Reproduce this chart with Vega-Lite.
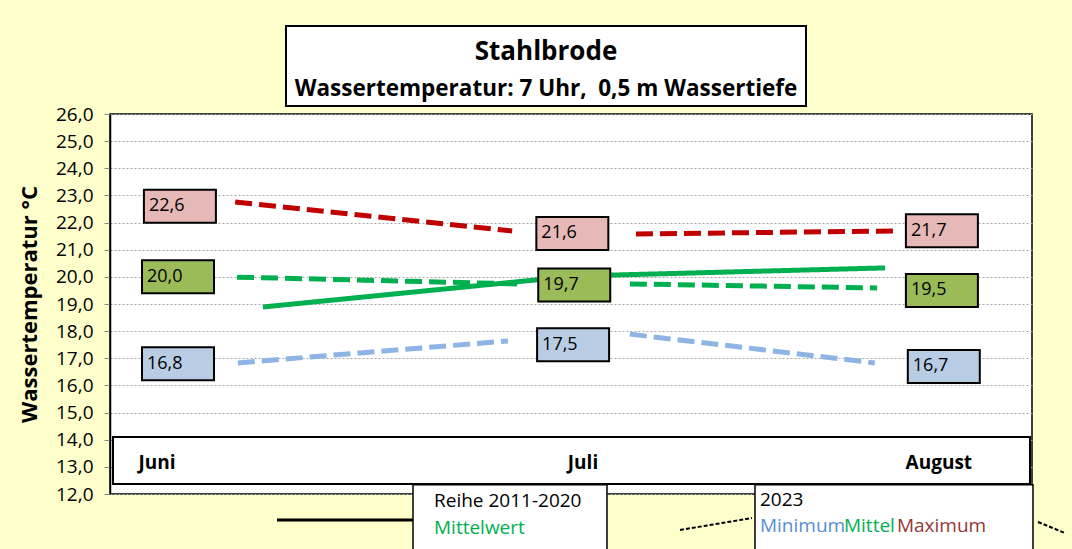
{
  "$schema": "https://vega.github.io/schema/vega-lite/v6.json",
  "width": 922,
  "height": 380,
  "autosize": {"type": "none"},
  "padding": {"left": 110, "top": 114, "right": 40, "bottom": 55},
  "background": "#FFFFCC",
  "config": {
    "locale": {"number": {"decimal": ",", "thousands": ".", "grouping": [3], "currency": ["", " €"]}},
    "font": "Open Sans",
    "view": {"fill": "white", "stroke": "black", "strokeWidth": 1.5},
    "axisY": {
      "values": [12, 13, 14, 15, 16, 17, 18, 19, 20, 21, 22, 23, 24, 25, 26],
      "format": ".1f",
      "labelFont": "Open Sans", "labelFontSize": 19, "labelColor": "black", "labelPadding": 11,
      "tickColor": "#888888", "tickSize": 6,
      "domainColor": "black", "domainWidth": 1.5,
      "grid": true, "gridColor": "#A6A6A6", "gridDash": [2, 2],
      "titleFont": "Open Sans", "titleFontSize": 22, "titleFontWeight": "bold", "titleColor": "black", "titlePadding": 14
    }
  },
  "datasets": {
    "linien": [
      {"reihe": "Maximum 2023", "abschnitt": "a", "art": "gestrichelt", "m": 6.150, "temp": 22.76},
      {"reihe": "Maximum 2023", "abschnitt": "a", "art": "gestrichelt", "m": 6.877, "temp": 21.69},
      {"reihe": "Maximum 2023", "abschnitt": "b", "art": "gestrichelt", "m": 7.202, "temp": 21.58},
      {"reihe": "Maximum 2023", "abschnitt": "b", "art": "gestrichelt", "m": 7.877, "temp": 21.69},
      {"reihe": "Mittel 2023", "abschnitt": "a", "art": "gestrichelt", "m": 6.155, "temp": 19.99},
      {"reihe": "Mittel 2023", "abschnitt": "a", "art": "gestrichelt", "m": 6.890, "temp": 19.74},
      {"reihe": "Mittel 2023", "abschnitt": "b", "art": "gestrichelt", "m": 7.186, "temp": 19.74},
      {"reihe": "Mittel 2023", "abschnitt": "b", "art": "gestrichelt", "m": 7.835, "temp": 19.59},
      {"reihe": "Minimum 2023", "abschnitt": "a", "art": "gestrichelt", "m": 6.157, "temp": 16.83},
      {"reihe": "Minimum 2023", "abschnitt": "a", "art": "gestrichelt", "m": 6.866, "temp": 17.64},
      {"reihe": "Minimum 2023", "abschnitt": "b", "art": "gestrichelt", "m": 7.186, "temp": 17.89},
      {"reihe": "Minimum 2023", "abschnitt": "b", "art": "gestrichelt", "m": 7.829, "temp": 16.83},
      {"reihe": "Mittelwert 2011-2020", "abschnitt": "a", "art": "durchgezogen", "m": 6.223, "temp": 18.89},
      {"reihe": "Mittelwert 2011-2020", "abschnitt": "a", "art": "durchgezogen", "m": 7.042, "temp": 20.03},
      {"reihe": "Mittelwert 2011-2020", "abschnitt": "a", "art": "durchgezogen", "m": 7.856, "temp": 20.33}
    ],
    "werte": [
      {"serie": "Maximum", "monat": "Juni", "m": 6.005, "wert": 22.6},
      {"serie": "Mittel", "monat": "Juni", "m": 6.0, "wert": 20.0},
      {"serie": "Minimum", "monat": "Juni", "m": 6.0, "wert": 16.8},
      {"serie": "Maximum", "monat": "Juli", "m": 7.035, "wert": 21.6},
      {"serie": "Mittel", "monat": "Juli", "m": 7.04, "wert": 19.7},
      {"serie": "Minimum", "monat": "Juli", "m": 7.037, "wert": 17.5},
      {"serie": "Maximum", "monat": "August", "m": 8.005, "wert": 21.7},
      {"serie": "Mittel", "monat": "August", "m": 8.005, "wert": 19.5},
      {"serie": "Minimum", "monat": "August", "m": 8.01, "wert": 16.7}
    ],
    "monate": [
      {"monat": "Juni", "m": 5.945},
      {"monat": "Juli", "m": 7.063},
      {"monat": "August", "m": 7.997}
    ]
  },
  "layer": [
    {
      "data": {"name": "linien"},
      "mark": {"type": "line", "strokeWidth": 5, "strokeCap": "butt"},
      "encoding": {
        "x": {"field": "m", "type": "quantitative", "scale": {"domain": [5.8215, 8.2415], "nice": false, "zero": false}, "axis": null},
        "y": {"field": "temp", "type": "quantitative", "scale": {"domain": [12, 26], "nice": false, "zero": false}, "title": "Wassertemperatur °C"},
        "stroke": {"field": "reihe", "type": "nominal", "legend": null,
          "scale": {"domain": ["Maximum 2023", "Mittel 2023", "Minimum 2023", "Mittelwert 2011-2020"], "range": ["#C00000", "#00B050", "#8DB4E2", "#00B050"]}},
        "strokeDash": {"field": "art", "type": "nominal", "legend": null,
          "scale": {"domain": ["gestrichelt", "durchgezogen"], "range": [[17, 7], [1, 0]]}},
        "detail": {"field": "abschnitt"}
      }
    },
    {
      "data": {"values": [{}]},
      "mark": {"type": "rect", "fill": "white", "stroke": "black", "strokeWidth": 2},
      "encoding": {
        "x": {"datum": 5.8294, "type": "quantitative", "axis": null},
        "x2": {"datum": 8.2362},
        "y": {"datum": 14.10, "type": "quantitative", "title": "Wassertemperatur °C"},
        "y2": {"datum": 12.37}
      }
    },
    {
      "data": {"name": "werte"},
      "mark": {"type": "point", "shape": "M-1,-0.4583L1,-0.4583L1,0.4583L-1,0.4583Z", "size": 5184, "filled": true, "opacity": 1, "stroke": "black", "strokeWidth": 2},
      "encoding": {
        "x": {"field": "m", "type": "quantitative", "axis": null},
        "y": {"field": "wert", "type": "quantitative", "title": "Wassertemperatur °C"},
        "fill": {"field": "serie", "type": "nominal", "legend": null,
          "scale": {"domain": ["Maximum", "Mittel", "Minimum"], "range": ["#E6B8B7", "#9BBB59", "#B8CCE4"]}}
      }
    },
    {
      "data": {"name": "werte"},
      "mark": {"type": "text", "align": "left", "baseline": "middle", "dx": -31, "font": "Open Sans", "fontSize": 18, "color": "black"},
      "encoding": {
        "x": {"field": "m", "type": "quantitative", "axis": null},
        "y": {"field": "wert", "type": "quantitative", "title": "Wassertemperatur °C"},
        "text": {"field": "wert", "type": "quantitative", "format": ".1f"}
      }
    },
    {
      "data": {"name": "monate"},
      "mark": {"type": "text", "align": "center", "baseline": "middle", "font": "Open Sans", "fontSize": 19, "fontWeight": "bold", "color": "black"},
      "encoding": {
        "x": {"field": "m", "type": "quantitative", "axis": null},
        "y": {"datum": 13.14, "type": "quantitative", "title": "Wassertemperatur °C"},
        "text": {"field": "monat", "type": "nominal"}
      }
    },
    {
      "data": {"values": [{}]},
      "mark": {"type": "rect", "fill": "white", "stroke": "black", "strokeWidth": 2},
      "encoding": {
        "x": {"datum": 6.2834, "type": "quantitative", "axis": null},
        "x2": {"datum": 7.6483},
        "y": {"datum": 29.242, "type": "quantitative", "title": "Wassertemperatur °C"},
        "y2": {"datum": 26.295}
      }
    },
    {
      "data": {"values": [{"text": "Stahlbrode"}]},
      "mark": {"type": "text", "align": "center", "baseline": "alphabetic", "font": "Open Sans", "fontSize": 26, "fontWeight": "bold", "color": "black"},
      "encoding": {
        "x": {"datum": 6.9659, "type": "quantitative", "axis": null},
        "y": {"datum": 27.99, "type": "quantitative", "title": "Wassertemperatur °C"},
        "text": {"field": "text", "type": "nominal"}
      }
    },
    {
      "data": {"values": [{"text": "Wassertemperatur: 7 Uhr,\u00a0 0,5 m Wassertiefe"}]},
      "mark": {"type": "text", "align": "center", "baseline": "alphabetic", "font": "Open Sans", "fontSize": 22.5, "fontWeight": "bold", "color": "black"},
      "encoding": {
        "x": {"datum": 6.9659, "type": "quantitative", "axis": null},
        "y": {"datum": 26.663, "type": "quantitative", "title": "Wassertemperatur °C"},
        "text": {"field": "text", "type": "nominal"}
      }
    },
    {
      "data": {"values": [{}]},
      "mark": {"type": "rect", "fill": "white", "stroke": "black", "strokeWidth": 1.5},
      "encoding": {
        "x": {"datum": 6.6168, "type": "quantitative", "axis": null},
        "x2": {"datum": 7.1260},
        "y": {"datum": 12.34, "type": "quantitative", "title": "Wassertemperatur °C"},
        "y2": {"datum": 9.57}
      }
    },
    {
      "data": {"values": [{}]},
      "mark": {"type": "rect", "fill": "white", "stroke": "black", "strokeWidth": 1.5},
      "encoding": {
        "x": {"datum": 7.5144, "type": "quantitative", "axis": null},
        "x2": {"datum": 8.2441},
        "y": {"datum": 12.34, "type": "quantitative", "title": "Wassertemperatur °C"},
        "y2": {"datum": 9.57}
      }
    },
    {
      "data": {"values": [{}]},
      "mark": {"type": "rule", "color": "black", "strokeWidth": 3},
      "encoding": {
        "x": {"datum": 6.2598, "type": "quantitative", "axis": null},
        "x2": {"datum": 6.6168},
        "y": {"datum": 11.042, "type": "quantitative", "title": "Wassertemperatur °C"}
      }
    },
    {
      "data": {"values": [{}]},
      "mark": {"type": "rule", "color": "black", "strokeWidth": 2, "strokeDash": [4, 2]},
      "encoding": {
        "x": {"datum": 7.3176, "type": "quantitative", "axis": null},
        "x2": {"datum": 7.5066},
        "y": {"datum": 10.674, "type": "quantitative", "title": "Wassertemperatur °C"},
        "y2": {"datum": 11.116}
      }
    },
    {
      "data": {"values": [{}]},
      "mark": {"type": "rule", "color": "black", "strokeWidth": 2, "strokeDash": [4, 2]},
      "encoding": {
        "x": {"datum": 8.2572, "type": "quantitative", "axis": null},
        "x2": {"datum": 8.3281},
        "y": {"datum": 10.968, "type": "quantitative", "title": "Wassertemperatur °C"},
        "y2": {"datum": 10.563}
      }
    },
    {
      "data": {"values": [{"text": "Reihe 2011-2020"}]},
      "mark": {"type": "text", "align": "left", "baseline": "alphabetic", "font": "Open Sans", "fontSize": 19, "color": "black"},
      "encoding": {
        "x": {"datum": 6.6719, "type": "quantitative", "axis": null},
        "y": {"datum": 11.521, "type": "quantitative", "title": "Wassertemperatur °C"},
        "text": {"field": "text", "type": "nominal"}
      }
    },
    {
      "data": {"values": [{"text": "Mittelwert"}]},
      "mark": {"type": "text", "align": "left", "baseline": "alphabetic", "font": "Open Sans", "fontSize": 19, "color": "#00B050"},
      "encoding": {
        "x": {"datum": 6.6719, "type": "quantitative", "axis": null},
        "y": {"datum": 10.527, "type": "quantitative", "title": "Wassertemperatur °C"},
        "text": {"field": "text", "type": "nominal"}
      }
    },
    {
      "data": {"values": [{"text": "2023"}]},
      "mark": {"type": "text", "align": "left", "baseline": "alphabetic", "font": "Open Sans", "fontSize": 19, "color": "black"},
      "encoding": {
        "x": {"datum": 7.5275, "type": "quantitative", "axis": null},
        "y": {"datum": 11.558, "type": "quantitative", "title": "Wassertemperatur °C"},
        "text": {"field": "text", "type": "nominal"}
      }
    },
    {
      "data": {"values": [{"text": "Minimum"}]},
      "mark": {"type": "text", "align": "left", "baseline": "alphabetic", "font": "Open Sans", "fontSize": 19, "color": "#558ED5"},
      "encoding": {
        "x": {"datum": 7.5275, "type": "quantitative", "axis": null},
        "y": {"datum": 10.601, "type": "quantitative", "title": "Wassertemperatur °C"},
        "text": {"field": "text", "type": "nominal"}
      }
    },
    {
      "data": {"values": [{"text": "Mittel"}]},
      "mark": {"type": "text", "align": "left", "baseline": "alphabetic", "font": "Open Sans", "fontSize": 19, "color": "#00B050"},
      "encoding": {
        "x": {"datum": 7.7480, "type": "quantitative", "axis": null},
        "y": {"datum": 10.601, "type": "quantitative", "title": "Wassertemperatur °C"},
        "text": {"field": "text", "type": "nominal"}
      }
    },
    {
      "data": {"values": [{"text": "Maximum"}]},
      "mark": {"type": "text", "align": "left", "baseline": "alphabetic", "font": "Open Sans", "fontSize": 19, "color": "#953735"},
      "encoding": {
        "x": {"datum": 7.8871, "type": "quantitative", "axis": null},
        "y": {"datum": 10.601, "type": "quantitative", "title": "Wassertemperatur °C"},
        "text": {"field": "text", "type": "nominal"}
      }
    }
  ]
}
